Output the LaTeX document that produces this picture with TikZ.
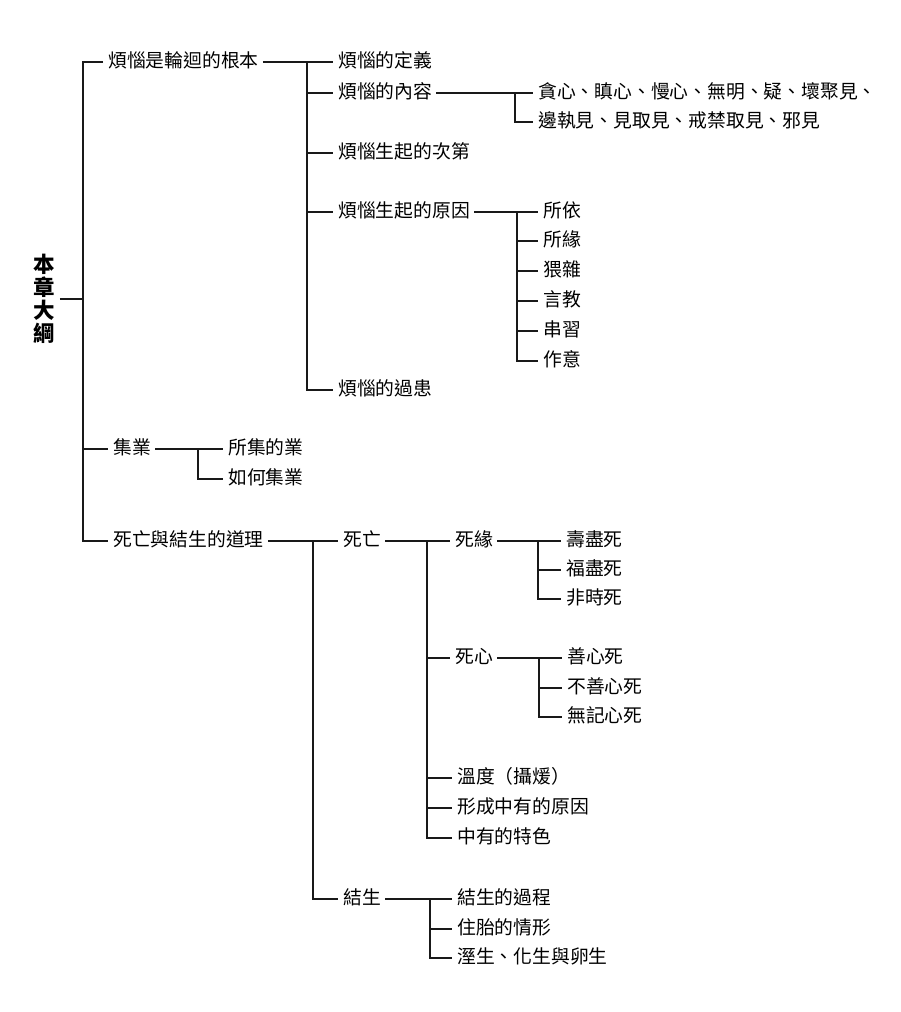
\documentclass[tikz,border=0pt]{standalone}
\usepackage{fontspec}
\setmainfont{Noto Sans CJK TC}
\begin{document}
\begin{tikzpicture}[x=1pt,y=-1pt,
  t/.style={anchor=west,inner xsep=0pt,inner ysep=0pt,text height=14pt,text depth=3.5pt,font=\fontsize{18.8}{20}\selectfont},
  ln/.style={line width=1.2pt,black!90}]
\useasboundingbox[fill=white] (0,0) rectangle (900,1012);
% bars
\coordinate (Ba) at (83,0);
\coordinate (Bb) at (307,0);
\coordinate (Bc) at (515,0);
\coordinate (Bd) at (517,0);
\coordinate (Be) at (198,0);
\coordinate (Bf) at (313,0);
\coordinate (Bg) at (427,0);
\coordinate (Bh) at (538,0);
\coordinate (Bi) at (539,0);
\coordinate (Bj) at (430,0);
% root
\node[align=center,inner xsep=5pt,inner ysep=0pt,font=\fontsize{21.5}{23}\selectfont\bfseries] (root) at (44,299) {本\\章\\大\\綱};
% level 1
\node[t] (a1) at (108,62) {煩惱是輪迴的根本};
\node[t] (a2) at (113,449) {集業};
\node[t] (a3) at (113,541) {死亡與結生的道理};
% under a1
\node[t] (b1) at (338,62) {煩惱的定義};
\node[t] (b2) at (338,93) {煩惱的內容};
\node[t] (b3) at (338,153) {煩惱生起的次第};
\node[t] (b4) at (338,212) {煩惱生起的原因};
\node[t] (b5) at (338,390) {煩惱的過患};
% under b2
\node[t] (c1) at (538,93) {貪心、瞋心、慢心、無明、疑、壞聚見、};
\node[t] (c2) at (538,122) {邊執見、見取見、戒禁取見、邪見};
% under b4
\node[t] (d1) at (543,212) {所依};
\node[t] (d2) at (543,241) {所緣};
\node[t] (d3) at (543,271) {猥雜};
\node[t] (d4) at (543,301) {言教};
\node[t] (d5) at (543,331) {串習};
\node[t] (d6) at (543,361) {作意};
% under a2
\node[t] (e1) at (228,449) {所集的業};
\node[t] (e2) at (228,479) {如何集業};
% under a3
\node[t] (f1) at (343,541) {死亡};
\node[t] (f2) at (343,899) {結生};
% under f1
\node[t] (g1) at (455,541) {死緣};
\node[t] (g2) at (455,658) {死心};
\node[t] (g3) at (457,778) {溫度（攝煖）};
\node[t] (g4) at (457,808) {形成中有的原因};
\node[t] (g5) at (457,838) {中有的特色};
% under g1
\node[t] (h1) at (566,541) {壽盡死};
\node[t] (h2) at (566,570) {福盡死};
\node[t] (h3) at (566,599) {非時死};
% under g2
\node[t] (i1) at (567,658) {善心死};
\node[t] (i2) at (567,688) {不善心死};
\node[t] (i3) at (567,717) {無記心死};
% under f2
\node[t] (j1) at (457,899) {結生的過程};
\node[t] (j2) at (457,929) {住胎的情形};
\node[t] (j3) at (457,958) {溼生、化生與卵生};

% connectors: root
\draw[ln] (root.east) -- (root.east -| Ba);
\draw[ln] ([xshift=-5pt]a1.west) -- (a1.west -| Ba) -- (a3.west -| Ba) -- ([xshift=-5pt]a3.west);
\draw[ln] (a2.west -| Ba) -- ([xshift=-5pt]a2.west);
% a1 group
\draw[ln] ([xshift=4pt]a1.east) -- ([xshift=-5pt]b1.west);
\draw[ln] (b1.west -| Bb) -- (b5.west -| Bb) -- ([xshift=-5pt]b5.west);
\foreach \n in {b2,b3,b4} \draw[ln] (\n.west -| Bb) -- ([xshift=-5pt]\n.west);
% b2 group
\draw[ln] ([xshift=4pt]b2.east) -- ([xshift=-5pt]c1.west);
\draw[ln] (c1.west -| Bc) -- (c2.west -| Bc) -- ([xshift=-5pt]c2.west);
% b4 group
\draw[ln] ([xshift=4pt]b4.east) -- ([xshift=-5pt]d1.west);
\draw[ln] (d1.west -| Bd) -- (d6.west -| Bd) -- ([xshift=-5pt]d6.west);
\foreach \n in {d2,d3,d4,d5} \draw[ln] (\n.west -| Bd) -- ([xshift=-5pt]\n.west);
% a2 group
\draw[ln] ([xshift=4pt]a2.east) -- ([xshift=-5pt]e1.west);
\draw[ln] (e1.west -| Be) -- (e2.west -| Be) -- ([xshift=-5pt]e2.west);
% a3 group
\draw[ln] ([xshift=4pt]a3.east) -- ([xshift=-5pt]f1.west);
\draw[ln] (f1.west -| Bf) -- (f2.west -| Bf) -- ([xshift=-5pt]f2.west);
% f1 group
\draw[ln] ([xshift=4pt]f1.east) -- ([xshift=-5pt]g1.west);
\draw[ln] (g1.west -| Bg) -- (g5.west -| Bg) -- ([xshift=-5pt]g5.west);
\foreach \n in {g2,g3,g4} \draw[ln] (\n.west -| Bg) -- ([xshift=-5pt]\n.west);
% g1 group
\draw[ln] ([xshift=4pt]g1.east) -- ([xshift=-5pt]h1.west);
\draw[ln] (h1.west -| Bh) -- (h3.west -| Bh) -- ([xshift=-5pt]h3.west);
\draw[ln] (h2.west -| Bh) -- ([xshift=-5pt]h2.west);
% g2 group
\draw[ln] ([xshift=4pt]g2.east) -- ([xshift=-5pt]i1.west);
\draw[ln] (i1.west -| Bi) -- (i3.west -| Bi) -- ([xshift=-5pt]i3.west);
\draw[ln] (i2.west -| Bi) -- ([xshift=-5pt]i2.west);
% f2 group
\draw[ln] ([xshift=4pt]f2.east) -- ([xshift=-5pt]j1.west);
\draw[ln] (j1.west -| Bj) -- (j3.west -| Bj) -- ([xshift=-5pt]j3.west);
\draw[ln] (j2.west -| Bj) -- ([xshift=-5pt]j2.west);
\end{tikzpicture}
\end{document}
